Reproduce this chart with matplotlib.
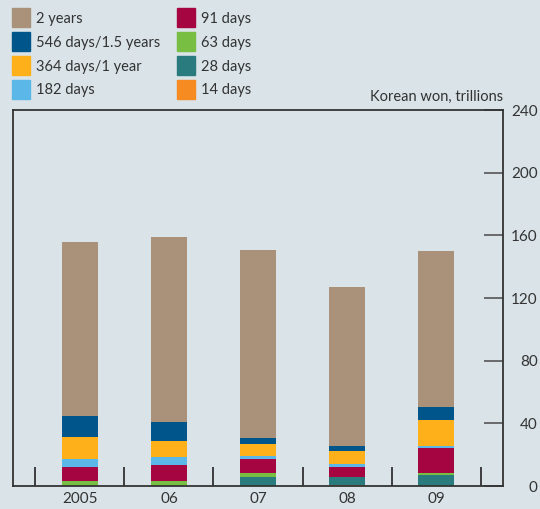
import matplotlib.pyplot as plt
import numpy as np
from matplotlib.patches import Rectangle

plt.rcParams['font.family'] = ['Lato', 'DejaVu Sans']

anos = ['2005', '06', '07', '08', '09']
series = ['2 years', '546 days/1.5 years', '364 days/1 year', '182 days',
          '91 days', '63 days', '28 days', '14 days']
cores = ['#A99279', '#00568A', '#FDB01A', '#5BB7E8',
         '#A50641', '#78BE43', '#2A7B7E', '#F68B21']

# valores (trilhoes de won), de baixo para cima: 14d, 28d, 63d, 91d, 182d, 364d, 546d, 2 anos
d14 = [0, 0, 0, 0.5, 0]
d28 = [0, 0, 5.5, 5.0, 6.8]
d63 = [3.0, 3.0, 2.6, 0, 1.3]
d91 = [8.9, 10.2, 8.9, 6.4, 15.9]
d182 = [5.1, 5.1, 1.9, 1.9, 1.5]
d364 = [14.1, 10.2, 7.7, 8.3, 16.4]
d546 = [13.4, 12.1, 3.8, 3.2, 8.3]
y2 = [111.2, 118.3, 120.2, 101.7, 99.8]

fundo = '#D9E3E8'
fig = plt.figure(figsize=(5.4, 5.09), dpi=100, facecolor=fundo)
ax = fig.add_axes([13/540, 23/509, 490/540, 376/509], facecolor=fundo)

x = np.arange(len(anos))
pilha = [d14, d28, d63, d91, d182, d364, d546, y2]
cores_pilha = cores[::-1]
base = np.zeros(len(anos))
for vals, cor in zip(pilha, cores_pilha):
    ax.bar(x, vals, width=0.4, bottom=base, color=cor, linewidth=0)
    base = base + np.array(vals)

ax.set_xlim(-0.75, 4.75)
ax.set_ylim(0, 240)
ax.set_xticks(x)
ax.set_xticklabels(anos)
ax.set_xticks(np.arange(-0.5, 5, 1), minor=True)
ax.tick_params(axis='x', which='major', length=0, pad=4, labelsize=11, colors='#333333')
ax.tick_params(axis='x', which='minor', direction='in', length=14, width=1.2, color='#222222')

ax.yaxis.tick_right()
ax.set_yticks(np.arange(0, 241, 40))
ax.tick_params(axis='y', direction='in', length=14, width=1.2, color='#555555',
               pad=25, labelsize=11, labelcolor='#333333')
for lab in ax.get_yticklabels():
    lab.set_horizontalalignment('right')

for s in ax.spines.values():
    s.set_color('#333333')
    s.set_linewidth(1.3)

fig.text(503/540, 1 - 97/509, 'Korean won, trillions', ha='right', va='center',
         fontsize=10.5, color='#333333')

# legenda
for i, (nome, cor) in enumerate(zip(series, cores)):
    col = i // 4
    lin = i % 4
    x0 = 12 + col * 165
    yc = 17.5 + lin * 24
    fig.patches.append(Rectangle((x0/540, 1 - (yc + 9.5)/509), 18/540, 19/509,
                                 transform=fig.transFigure, color=cor, figure=fig))
    fig.text((x0 + 24)/540, 1 - (yc + 1)/509, nome, ha='left', va='center',
             fontsize=10.5, color='#333333')

fig.savefig('out.png', dpi=100, facecolor=fundo)
